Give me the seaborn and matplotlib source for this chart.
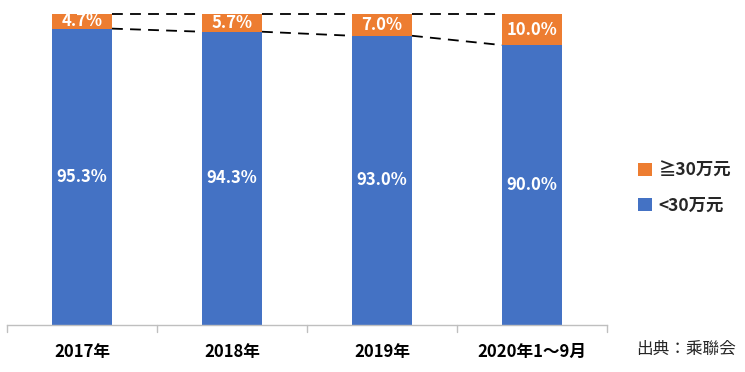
import matplotlib
matplotlib.use("Agg")
import matplotlib.pyplot as plt
import seaborn as sns
import pandas as pd

categories = ["2017年", "2018年", "2019年", "2020年1～9月"]
below_30 = [95.3, 94.3, 93.0, 90.0]
above_30 = [4.7, 5.7, 7.0, 10.0]
series_names = ["<30万元", "≧30万元"]
source_text = "出典：乘聯会"

sns.set_theme(style="white")
plt.rcParams["font.family"] = ["Noto Sans CJK JP", "DejaVu Sans"]

blue = "#4472C4"
orange = "#ED7D31"

df = pd.DataFrame({"cat": categories, "below": below_30, "above": above_30})
df["total"] = df["below"] + df["above"]

fig = plt.figure(figsize=(7.45, 3.72), dpi=100)
ax = fig.add_axes([7/745, 47/372, 600/745, (325-14)/372])

sns.barplot(data=df, x="cat", y="total", color=orange, width=0.4, ax=ax,
            saturation=1, label=series_names[1], edgecolor="none")
sns.barplot(data=df, x="cat", y="below", color=blue, width=0.4, ax=ax,
            saturation=1, label=series_names[0], edgecolor="none")

ax.set_ylim(0, 100)
ax.set_xlim(-0.5, 3.5)
ax.set_xlabel("")
ax.set_ylabel("")
ax.set_yticks([])
for s in ["top", "right", "left"]:
    ax.spines[s].set_visible(False)
ax.spines["bottom"].set_color("#BFBFBF")
ax.spines["bottom"].set_linewidth(1)

ax.set_xticks([0, 1, 2, 3])
ax.set_xticklabels(categories, fontsize=12, fontweight="bold", color="#000000")
ax.tick_params(axis="x", length=0, pad=13)
for b in [0.5, 1.5, 2.5, 3.5, -0.5]:
    ax.plot([b, b], [0, -2.2], color="#BFBFBF", lw=1, clip_on=False)

hw = 0.2
for i in range(len(categories)):
    ax.text(i, below_30[i] / 2, f"{below_30[i]:.1f}%", ha="center", va="center",
            color="white", fontsize=12, fontweight="bold")
    ax.text(i, below_30[i] + above_30[i] / 2, f"{above_30[i]:.1f}%", ha="center",
            va="center", color="white", fontsize=12, fontweight="bold")

for i in range(len(categories) - 1):
    ax.plot([i + hw, i + 1 - hw], [below_30[i], below_30[i + 1]], color="black",
            lw=1.3, ls=(0, (6, 4)))
    ax.plot([i + hw, i + 1 - hw], [100, 100], color="black", lw=1.3,
            ls=(0, (6, 4)), clip_on=False)

handles, labels = ax.get_legend_handles_labels()
leg = ax.legend(handles, labels, loc="center left", bbox_to_anchor=(622/745, 1 - 188/372),
                bbox_transform=fig.transFigure, frameon=False, fontsize=12.5,
                handlelength=0.8, handleheight=0.8, labelspacing=1.0, handletextpad=0.4)
for t in leg.get_texts():
    t.set_fontweight("bold")

fig.text(736/745, 1 - 349/372, source_text, ha="right", va="center", fontsize=12)

fig.savefig("out.png", dpi=100)
